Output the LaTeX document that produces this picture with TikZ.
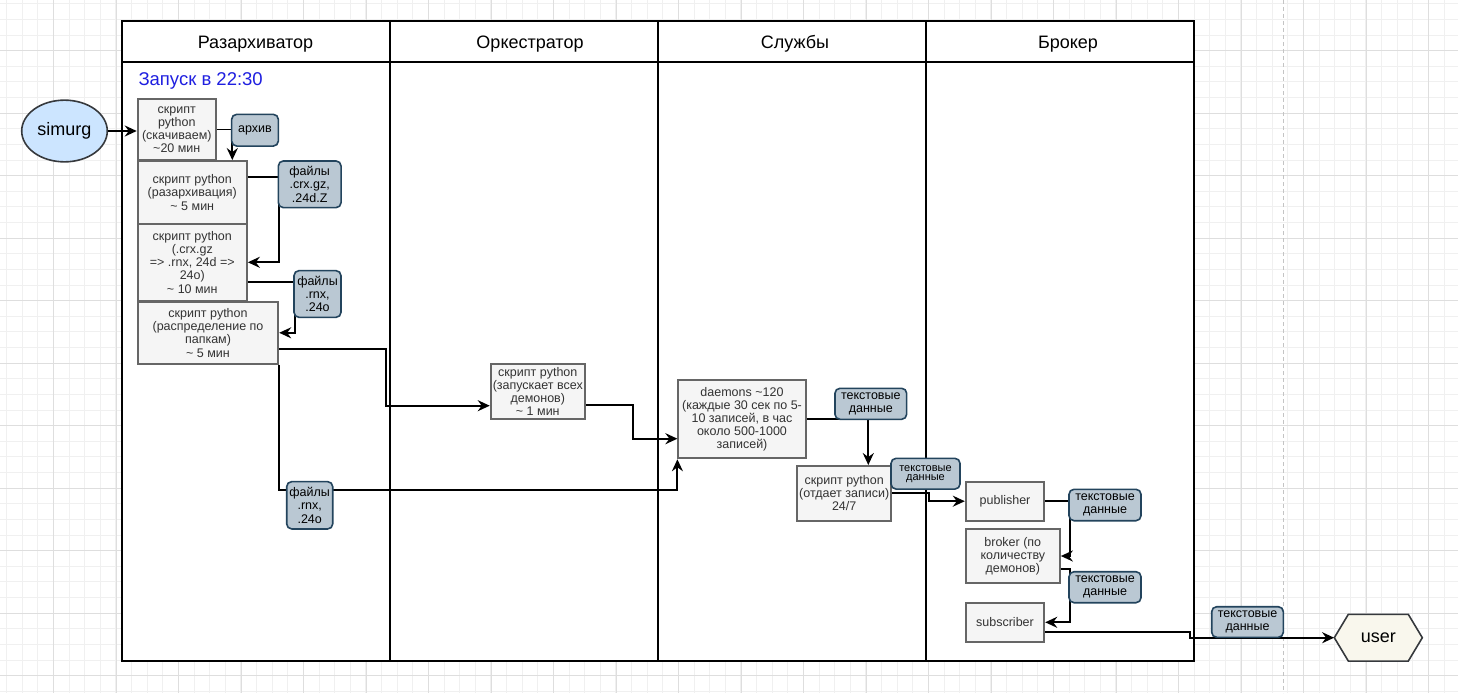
\documentclass[tikz,border=0pt]{standalone}
\usepackage{fontspec}
\setmainfont{Liberation Sans}
\usetikzlibrary{arrows.meta,shapes.geometric,calc}
\definecolor{procfill}{HTML}{F5F5F5}
\definecolor{procline}{HTML}{666666}
\definecolor{proctext}{HTML}{333333}
\definecolor{tagfill}{HTML}{BAC8D3}
\definecolor{tagline}{HTML}{23445D}
\definecolor{simfill}{HTML}{CCE5FF}
\definecolor{userfill}{HTML}{F9F7ED}
\definecolor{darkline}{HTML}{36393D}
\definecolor{gridminor}{HTML}{F0F0F0}
\definecolor{gridmajor}{HTML}{DEDEDE}
\definecolor{launchblue}{HTML}{1F1FE0}
\definecolor{dashgrey}{HTML}{C4C4C4}
\begin{document}
\begin{tikzpicture}[x=1pt,y=-1pt,
  proc/.style={draw=procline,fill=procfill,line width=1.8pt,text=proctext,
    font=\fontsize{12.5}{13.2}\selectfont,align=center,inner sep=0pt},
  tag/.style={draw=tagline,fill=tagfill,line width=1.6pt,rounded corners=5pt,
    font=\fontsize{12.5}{13.2}\selectfont,align=center,inner sep=0pt},
  conn/.style={line width=1.9pt,-{Stealth[length=12pt,width=11pt,inset=4pt]}},
  hdr/.style={font=\fontsize{18}{21}\selectfont,anchor=base},
  tableline/.style={line width=2.2pt,black}
]
\useasboundingbox (0,0) rectangle (1458,693);
% grid
\foreach \i in {0,...,93} \draw[gridminor,line width=1pt] ({6.6+15.625*\i},0) -- ++(0,693);
\foreach \i in {0,...,44} \draw[gridminor,line width=1pt] (0,{3.8+15.625*\i}) -- ++(1458,0);
\foreach \i in {0,...,22} \draw[gridmajor,line width=1pt] ({53.8+62.5*\i},0) -- ++(0,693);
\foreach \i in {0,...,10} \draw[gridmajor,line width=1pt] (0,{50.7+62.5*\i}) -- ++(1458,0);
\draw[dashgrey,line width=1pt,dash pattern=on 4pt off 3pt] (1283.7,0) -- (1283.7,693);

% table
\fill[white] (122.3,20.7) rectangle (1194,661);
\draw[tableline] (122.3,20.7) rectangle (1194,661);
\draw[tableline] (122.3,61.7) -- (1194,61.7);
\draw[tableline] (390,20.7) -- (390,661);
\draw[tableline] (658,20.7) -- (658,661);
\draw[tableline] (926,20.7) -- (926,661);
\node[hdr] (h1) at (255.5,48.3) {Разархиватор};
\node[hdr] (h2) at (530,48.3) {Оркестратор};
\node[hdr] (h3) at (795,48.3) {Службы};
\node[hdr] (h4) at (1068,48.3) {Брокер};
\node[font=\fontsize{18.5}{21}\selectfont,text=launchblue,anchor=base west,inner sep=0pt] (launch) at (138.3,85.5) {Запуск в 22:30};

% nodes
\node[ellipse,draw=darkline,fill=simfill,line width=1.6pt,minimum width=85.6pt,minimum height=61.7pt,inner sep=0pt,font=\fontsize{18}{21}\selectfont] (sim) at (64.5,131) {simurg};

\node[proc,minimum width=78.3pt,minimum height=61pt] (b1) at (176.8,129.5) {скрипт\\python\\(скачиваем)\\\textasciitilde20 мин};
\node[proc,minimum width=109.3pt,minimum height=63pt] (b2) at (192.3,192.5) {скрипт python\\(разархивация)\\\textasciitilde{} 5 мин};
\node[proc,minimum width=109.3pt,minimum height=76.7pt] (b3) at (192.3,262.3) {скрипт python\\(.crx.gz\\=> .rnx, 24d =>\\24o)\\\textasciitilde{} 10 мин};
\node[proc,minimum width=140.6pt,minimum height=62.3pt] (b4) at (208,332.8) {скрипт python\\(распределение по\\папкам)\\\textasciitilde{} 5 мин};
\node[proc,minimum width=94.3pt,minimum height=55.7pt] (b5) at (537.8,391.5) {скрипт python\\(запускает всех\\демонов)\\\textasciitilde{} 1 мин};
\node[proc,minimum width=127.4pt,minimum height=78.3pt] (d) at (742,419.2) {daemons \textasciitilde120\\(каждые 30 сек по 5-\\10 записей, в час\\около 500-1000\\записей)};
\node[proc,minimum width=93.7pt,minimum height=54.7pt] (s24) at (844.2,493.3) {скрипт python\\(отдает записи)\\24/7};
\node[proc,minimum width=78.6pt,minimum height=39pt] (pub) at (1005,501.2) {publisher};
\node[proc,minimum width=94.3pt,minimum height=54.6pt] (brk) at (1012.8,556) {broker (по\\количеству\\демонов)};
\node[proc,minimum width=78.6pt,minimum height=39.3pt] (sub) at (1005,622.3) {subscriber};

\coordinate (uc) at (1378.3,637.7);
\filldraw[fill=userfill,draw=darkline,line width=1.6pt]
  ($(uc)+(-44,0)$) -- ($(uc)+(-30,-23.35)$) -- ($(uc)+(30,-23.35)$) -- ($(uc)+(44,0)$)
  -- ($(uc)+(30,23.35)$) -- ($(uc)+(-30,23.35)$) -- cycle;
\node[font=\fontsize{18}{21}\selectfont,minimum width=88pt,minimum height=46.7pt,inner sep=0pt] (user) at (uc) {user};

% connectors
\draw[conn] (sim.east) -- (sim.east -| b1.west);
\draw[conn] (b1.east) -| ([xshift=40pt]b2.north);
\draw[conn] ([yshift=15.8pt]b2.east) -- ++(31.3,0) |- (b3.east);
\draw[conn] ([yshift=-19.4pt]b3.east) -- ++(47,0) |- (b4.east);
\draw[conn] ([yshift=-15.9pt]b4.east) -- ++(107,0) |- ([yshift=-14.2pt]b5.west);
\draw[conn] (b4.south east) -- ++(0,125) -| (d.south west);
\draw[conn] ([yshift=-13.5pt]b5.east) -- ++(46.7,0) |- ([yshift=-19.5pt]d.west);
\draw[conn] (d.east) -| ([xshift=24.1pt]s24.north);
\draw[conn] (s24.east) -- ++(37.3,0) |- (pub.west);
\draw[conn] (pub.east) -- ++(25,0) |- (brk.east);
\draw[conn] ([yshift=-13.3pt]brk.east) -- ++(9,0) |- (sub.east);
\draw[conn] ([yshift=-9.4pt]sub.east) -- ++(144.7,0) |- (user.west);

% tags
\node[tag,minimum width=46.7pt,minimum height=31.7pt] (t1) at (255,130.2) {архив};
\node[tag,minimum width=62.7pt,minimum height=46.7pt] (t2) at (309.7,184.3) {файлы\\.crx.gz,\\.24d.Z};
\node[tag,minimum width=47pt,minimum height=46.7pt] (t3) at (317.5,294) {файлы\\.rnx,\\.24o};
\node[tag,minimum width=46pt,minimum height=47.3pt] (t4) at (309.7,505.3) {файлы\\.rnx,\\.24o};
\node[tag,minimum width=71.7pt,minimum height=31pt] (t5) at (870.8,403.8) {текстовые\\данные};
\node[tag,minimum width=69pt,minimum height=30.7pt,font=\fontsize{11}{9}\selectfont] (t6) at (925.5,473.7) {текстовые\\данные};
\node[tag,minimum width=72pt,minimum height=31.4pt] (t7) at (1105,505) {текстовые\\данные};
\node[tag,minimum width=72pt,minimum height=31pt] (t8) at (1105,587.2) {текстовые\\данные};
\node[tag,minimum width=71.6pt,minimum height=30.6pt] (t9) at (1247.5,622) {текстовые\\данные};
\end{tikzpicture}
\end{document}
